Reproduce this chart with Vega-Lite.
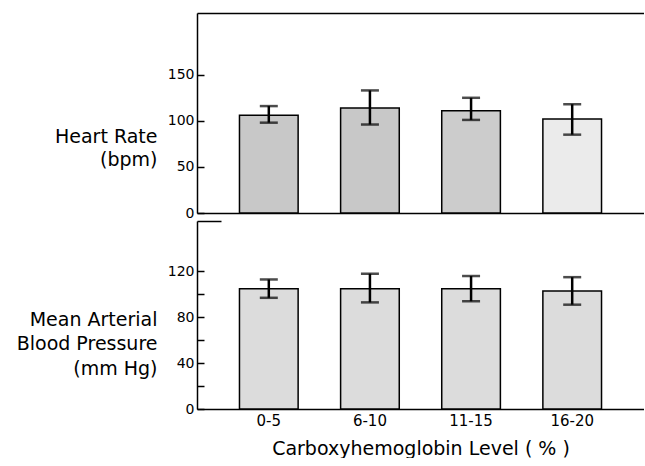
{
  "$schema": "https://vega.github.io/schema/vega-lite/v6.json",
  "padding": {"left": 16, "top": 13, "right": 0, "bottom": 0},
  "background": "white",
  "spacing": 0,
  "config": {
    "view": {"stroke": null},
    "font": "DejaVu Sans",
    "axis": {
      "domainColor": "black", "domainWidth": 1.5,
      "tickColor": "black", "tickWidth": 1.5,
      "labelColor": "black", "titleColor": "black",
      "labelFont": "DejaVu Sans", "titleFont": "DejaVu Sans",
      "titleFontWeight": "normal", "labelFontSize": 14, "grid": false
    }
  },
  "datasets": {
    "hr": [
      {"level": "0-5", "mean": 106, "lo": 98, "hi": 116},
      {"level": "6-10", "mean": 114, "lo": 96, "hi": 133},
      {"level": "11-15", "mean": 111, "lo": 101, "hi": 125},
      {"level": "16-20", "mean": 102, "lo": 85, "hi": 118}
    ],
    "map": [
      {"level": "0-5", "mean": 105, "lo": 97, "hi": 113},
      {"level": "6-10", "mean": 105, "lo": 93, "hi": 118},
      {"level": "11-15", "mean": 105, "lo": 94, "hi": 116},
      {"level": "16-20", "mean": 103, "lo": 91, "hi": 115}
    ]
  },
  "vconcat": [
    {
      "width": 447, "height": 200,
      "data": {"name": "hr"},
      "encoding": {
        "x": {"field": "level", "type": "nominal", "sort": null,
          "scale": {"paddingInner": 0.42, "paddingOuter": 0.42},
          "axis": {"labels": false, "ticks": false, "title": null}}
      },
      "layer": [
        {
          "mark": {"type": "bar", "stroke": "black", "strokeWidth": 1.5},
          "encoding": {
            "y": {"field": "mean", "type": "quantitative",
              "scale": {"domain": [0, 217], "nice": false},
              "axis": {"orient": "left", "values": [0, 50, 100, 150], "tickSize": -7, "labelPadding": 10,
                "title": ["Heart Rate", "(bpm)"], "titleAngle": 0, "titleAlign": "right", "titleBaseline": "top",
                "titleX": -40, "titleY": 114, "titleFontSize": 19, "titleLineHeight": 23}},
            "color": {"field": "level", "type": "nominal",
              "scale": {"domain": ["0-5", "6-10", "11-15", "16-20"], "range": ["#c8c8c8", "#c8c8c8", "#cccccc", "#ebebeb"]},
              "legend": null}
          }
        },
        {
          "mark": {"type": "rule", "strokeWidth": 2.5, "color": "black"},
          "encoding": {
            "y": {"field": "lo", "type": "quantitative",
              "scale": {"domain": [0, 217], "nice": false},
              "axis": {"orient": "left", "values": [217], "grid": true, "gridColor": "black", "gridWidth": 1.5, "gridOpacity": 1,
                "ticks": false, "labels": false, "domain": false, "title": null}},
            "y2": {"field": "hi"}
          }
        },
        {
          "mark": {"type": "tick", "thickness": 2.5, "size": 18, "color": "black"},
          "encoding": {"y": {"field": "lo", "type": "quantitative", "scale": {"domain": [0, 217], "nice": false}, "axis": null}}
        },
        {
          "mark": {"type": "tick", "thickness": 2.5, "size": 18, "color": "black"},
          "encoding": {"y": {"field": "hi", "type": "quantitative", "scale": {"domain": [0, 217], "nice": false}, "axis": null}}
        }
      ],
      "resolve": {"axis": {"y": "independent"}}
    },
    {
      "width": 447, "height": 188,
      "data": {"name": "map"},
      "encoding": {
        "x": {"field": "level", "type": "nominal", "sort": null,
          "scale": {"paddingInner": 0.42, "paddingOuter": 0.42},
          "axis": {"ticks": false, "labelAngle": 0, "labelFontSize": 15, "labelPadding": 4,
            "title": "Carboxyhemoglobin Level ( % )", "titleFontSize": 19, "titlePadding": 11}}
      },
      "layer": [
        {
          "mark": {"type": "bar", "stroke": "black", "strokeWidth": 1.5, "fill": "#dcdcdc"},
          "encoding": {
            "y": {"field": "mean", "type": "quantitative",
              "scale": {"domain": [0, 164], "nice": false},
              "axis": {"orient": "left", "values": [0, 20, 40, 60, 80, 100, 120], "tickSize": -7, "labelPadding": 10,
                "labelExpr": "datum.value % 40 === 0 ? datum.label : ''",
                "title": ["Mean Arterial", "Blood Pressure", "(mm Hg)"], "titleAngle": 0, "titleAlign": "right", "titleBaseline": "top",
                "titleX": -40, "titleY": 89, "titleFontSize": 19, "titleLineHeight": 24.5}}
          }
        },
        {
          "mark": {"type": "rule", "strokeWidth": 2.5, "color": "black"},
          "encoding": {
            "y": {"field": "lo", "type": "quantitative",
              "scale": {"domain": [0, 164], "nice": false},
              "axis": {"orient": "left", "values": [164], "ticks": true, "tickSize": -24, "tickWidth": 1.5,
                "labels": false, "domain": false, "grid": false, "title": null}},
            "y2": {"field": "hi"}
          }
        },
        {
          "mark": {"type": "tick", "thickness": 2.5, "size": 18, "color": "black"},
          "encoding": {"y": {"field": "lo", "type": "quantitative", "scale": {"domain": [0, 164], "nice": false}, "axis": null}}
        },
        {
          "mark": {"type": "tick", "thickness": 2.5, "size": 18, "color": "black"},
          "encoding": {"y": {"field": "hi", "type": "quantitative", "scale": {"domain": [0, 164], "nice": false}, "axis": null}}
        }
      ],
      "resolve": {"axis": {"y": "independent"}}
    }
  ]
}
